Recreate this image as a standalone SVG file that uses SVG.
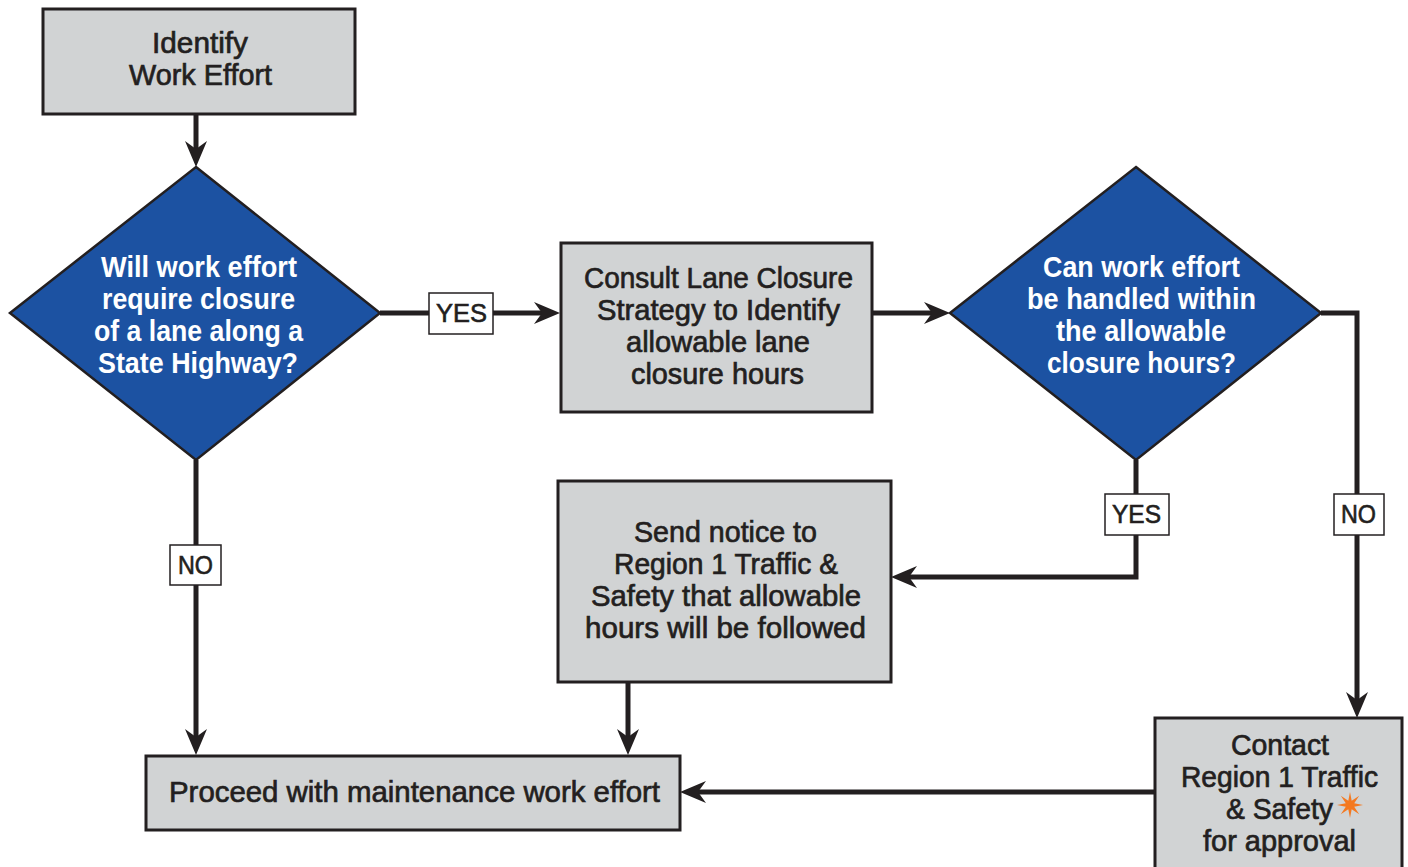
<svg xmlns="http://www.w3.org/2000/svg" width="1408" height="867" viewBox="0 0 1408 867">
<style>
.box{fill:#d1d3d4;stroke:#231f20;stroke-width:3}
.dia{fill:#1c52a2;stroke:#231f20;stroke-width:2.5}
.lbl{fill:#ffffff;stroke:#231f20;stroke-width:1.5}
.ln{fill:none;stroke:#231f20;stroke-width:5}
text{font-family:"Liberation Sans",Arial,sans-serif;text-anchor:middle}
.t{font-size:30px;fill:#231f20;stroke:#231f20;stroke-width:0.7}
.w{font-size:30px;font-weight:bold;fill:#ffffff}
.l{font-size:25px;fill:#231f20;stroke:#231f20;stroke-width:0.6}
</style>
<defs>
<marker id="ah" markerUnits="userSpaceOnUse" markerWidth="30" markerHeight="26" refX="14" refY="13" orient="auto" viewBox="0 0 30 26">
<path d="M0,2 L26,13 L0,24 L8,13 Z" fill="#231f20"/>
</marker>
</defs>
<rect width="1408" height="867" fill="#ffffff"/>
<g id="connectors">
<path class="ln" d="M196,114 V155" marker-end="url(#ah)"/>
<path class="ln" d="M380,313 H548" marker-end="url(#ah)"/>
<path class="ln" d="M872,313 H938" marker-end="url(#ah)"/>
<path class="ln" d="M1321,313 H1357 V706" marker-end="url(#ah)"/>
<path class="ln" d="M1136,460 V577 H903" marker-end="url(#ah)"/>
<path class="ln" d="M196,460 V743" marker-end="url(#ah)"/>
<path class="ln" d="M628,682 V743" marker-end="url(#ah)"/>
<path class="ln" d="M1155,792 H692" marker-end="url(#ah)"/>
<g id="label-yes1"><rect class="lbl" x="429" y="293" width="64" height="41"/><text class="l" x="461.5" y="322" textLength="51" lengthAdjust="spacingAndGlyphs">YES</text></g>
<g id="label-no1"><rect class="lbl" x="170" y="545" width="51" height="40"/><text class="l" x="195.5" y="574" textLength="35" lengthAdjust="spacingAndGlyphs">NO</text></g>
<g id="label-yes2"><rect class="lbl" x="1105" y="494" width="64" height="41"/><text class="l" x="1136.5" y="523" textLength="49" lengthAdjust="spacingAndGlyphs">YES</text></g>
<g id="label-no2"><rect class="lbl" x="1334" y="494" width="50" height="41"/><text class="l" x="1358.5" y="523" textLength="35" lengthAdjust="spacingAndGlyphs">NO</text></g>
</g>
<g id="identify">
<rect class="box" x="43" y="9" width="312" height="105"/>
<text class="t" x="200" y="53" textLength="96" lengthAdjust="spacingAndGlyphs">Identify</text>
<text class="t" x="200.5" y="85" textLength="143" lengthAdjust="spacingAndGlyphs">Work Effort</text>
</g>
<g id="decision1">
<polygon class="dia" points="196,167 380,313 196,460 10,313"/>
<text class="w" x="199" y="277" textLength="196" lengthAdjust="spacingAndGlyphs">Will work effort</text>
<text class="w" x="198.5" y="309" textLength="193" lengthAdjust="spacingAndGlyphs">require closure</text>
<text class="w" x="198.5" y="341" textLength="209" lengthAdjust="spacingAndGlyphs">of a lane along a</text>
<text class="w" x="198" y="373" textLength="200" lengthAdjust="spacingAndGlyphs">State Highway?</text>
</g>
<g id="consult">
<rect class="box" x="561" y="243" width="311" height="169"/>
<text class="t" x="718.5" y="288" textLength="269" lengthAdjust="spacingAndGlyphs">Consult Lane Closure</text>
<text class="t" x="718.5" y="320" textLength="243" lengthAdjust="spacingAndGlyphs">Strategy to Identify</text>
<text class="t" x="718" y="352" textLength="184" lengthAdjust="spacingAndGlyphs">allowable lane</text>
<text class="t" x="717.5" y="384" textLength="173" lengthAdjust="spacingAndGlyphs">closure hours</text>
</g>
<g id="decision2">
<polygon class="dia" points="1136,167 1321,313 1136,460 950,313"/>
<text class="w" x="1141.5" y="277" textLength="197" lengthAdjust="spacingAndGlyphs">Can work effort</text>
<text class="w" x="1141.5" y="309" textLength="229" lengthAdjust="spacingAndGlyphs">be handled within</text>
<text class="w" x="1141" y="341" textLength="170" lengthAdjust="spacingAndGlyphs">the allowable</text>
<text class="w" x="1141.5" y="373" textLength="189" lengthAdjust="spacingAndGlyphs">closure hours?</text>
</g>
<g id="send-notice">
<rect class="box" x="558" y="481" width="333" height="201"/>
<text class="t" x="725.5" y="542" textLength="183" lengthAdjust="spacingAndGlyphs">Send notice to</text>
<text class="t" x="726" y="574" textLength="224" lengthAdjust="spacingAndGlyphs">Region 1 Traffic &amp;</text>
<text class="t" x="726" y="606" textLength="270" lengthAdjust="spacingAndGlyphs">Safety that allowable</text>
<text class="t" x="725.5" y="638" textLength="281" lengthAdjust="spacingAndGlyphs">hours will be followed</text>
</g>
<g id="proceed">
<rect class="box" x="146" y="756" width="534" height="74"/>
<text class="t" x="414.5" y="802" textLength="491" lengthAdjust="spacingAndGlyphs">Proceed with maintenance work effort</text>
</g>
<g id="contact">
<rect class="box" x="1155" y="718" width="247" height="160"/>
<text class="t" x="1280" y="755" textLength="98" lengthAdjust="spacingAndGlyphs">Contact</text>
<text class="t" x="1279.5" y="787" textLength="197" lengthAdjust="spacingAndGlyphs">Region 1 Traffic</text>
<text class="t" x="1279.5" y="819" textLength="107" lengthAdjust="spacingAndGlyphs">&amp; Safety</text>
<text class="t" x="1279.5" y="851" textLength="153" lengthAdjust="spacingAndGlyphs">for approval</text>
<polygon fill="#f47920" points="1350,792 1351.7,800.8 1359.2,795.8 1354.2,803.3 1363,805 1354.2,806.7 1359.2,814.2 1351.7,809.2 1350,818 1348.3,809.2 1340.8,814.2 1345.8,806.7 1337,805 1345.8,803.3 1340.8,795.8 1348.3,800.8"/>
</g>
</svg>
